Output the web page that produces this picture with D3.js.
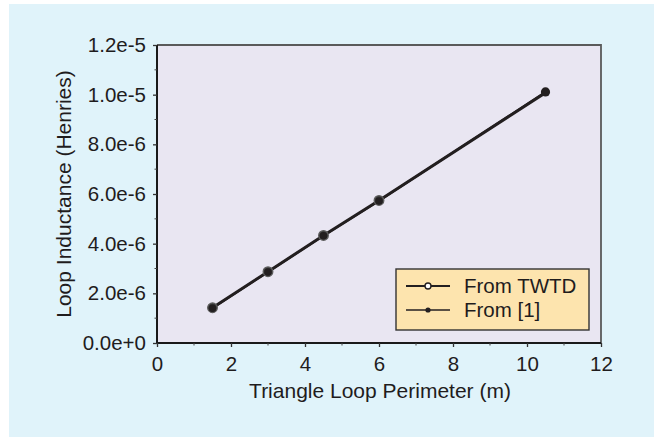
<!DOCTYPE html>
<html>
<head>
<meta charset="utf-8">
<script src="https://cdn.jsdelivr.net/npm/d3@7/dist/d3.min.js"></script>
<style>
  html, body { margin: 0; padding: 0; background: #ffffff; }
  svg { display: block; }
  text { font-family: "Liberation Sans", Arial, Helvetica, sans-serif; fill: #1f1c1d; }
</style>
</head>
<body>
<svg id="chart" width="662" height="437"></svg>
<script>
// ---- data ----
const perimeters = [1.5, 3, 4.5, 6, 10.5];
const twtdValues = [1.42e-6, 2.87e-6, 4.33e-6, 5.74e-6, 1.008e-5];
const ref1Values = [1.40e-6, 2.86e-6, 4.32e-6, 5.72e-6, 1.011e-5];
const seriesNames = ["From TWTD", "From [1]"];
const xTicks = [0, 2, 4, 6, 8, 10, 12];
const yTicks = [0, 2e-6, 4e-6, 6e-6, 8e-6, 1e-5, 1.2e-5];
const yTickLabels = ["0.0e+0", "2.0e-6", "4.0e-6", "6.0e-6", "8.0e-6", "1.0e-5", "1.2e-5"];
const xTitle = "Triangle Loop Perimeter (m)";
const yTitle = "Loop Inductance (Henries)";

const svg = d3.select("#chart");

// panel background
svg.append("rect").attr("x", 9).attr("y", 4).attr("width", 645).attr("height", 433).attr("fill", "#e0f3fa");

const L = 157, R = 601, T = 45, B = 343;
const x = d3.scaleLinear().domain([0, 12]).range([L, R]);
const y = d3.scaleLinear().domain([0, 1.2e-5]).range([B, T]);

// plot area
svg.append("rect").attr("x", L).attr("y", T).attr("width", R - L).attr("height", B - T)
  .attr("fill", "#e9e6f2");
// top & right frame (gray)
svg.append("path").attr("d", `M${L},${T}H${R}V${B}`).attr("fill", "none")
  .attr("stroke", "#5a5a5a").attr("stroke-width", 1.8);

// minor ticks
const xMinor = d3.range(1, 12, 2);
const yMinor = d3.range(1e-6, 1.2e-5, 2e-6);

const xAxis = svg.append("g").attr("transform", `translate(0,${B})`)
  .call(d3.axisBottom(x).tickValues(xTicks).tickFormat(d3.format("d")).tickSize(4).tickPadding(9));
const yAxis = svg.append("g").attr("transform", `translate(${L},0)`)
  .call(d3.axisLeft(y).tickValues(yTicks).tickFormat((d, i) => yTickLabels[i]).tickSize(4).tickPadding(7));

[xAxis, yAxis].forEach(g => {
  g.select(".domain").attr("stroke", "#1a1a1a").attr("stroke-width", 2);
  g.selectAll(".tick line").attr("stroke", "#333").attr("stroke-width", 1.3);
  g.selectAll("text").style("font-size", "20.5px").attr("fill", "#1f1c1d");
});
xAxis.select(".domain").attr("d", `M${L},0H${R}`);
yAxis.select(".domain").attr("d", `M0,${B}V${T}`);

svg.append("g").selectAll("line").data(xMinor).join("line")
  .attr("x1", d => x(d)).attr("x2", d => x(d)).attr("y1", B).attr("y2", B + 2.5)
  .attr("stroke", "#444").attr("stroke-width", 1);
svg.append("g").selectAll("line").data(yMinor).join("line")
  .attr("y1", d => y(d)).attr("y2", d => y(d)).attr("x1", L).attr("x2", L - 2.5)
  .attr("stroke", "#444").attr("stroke-width", 1);

// titles
svg.append("text").attr("x", 380).attr("y", 398).attr("text-anchor", "middle")
  .style("font-size", "21px").text(xTitle);
svg.append("text").attr("transform", `translate(71,194) rotate(-90)`).attr("text-anchor", "middle")
  .style("font-size", "21px").text(yTitle);

// lines
const line = d3.line().x(d => x(d[0])).y(d => y(d[1]));
const twtd = perimeters.map((p, i) => [p, twtdValues[i]]);
const ref1 = perimeters.map((p, i) => [p, ref1Values[i]]);

svg.append("path").datum(twtd).attr("d", line).attr("fill", "none")
  .attr("stroke", "#231f20").attr("stroke-width", 3);
svg.append("path").datum(ref1).attr("d", line).attr("fill", "none")
  .attr("stroke", "#231f20").attr("stroke-width", 2);

svg.append("g").selectAll("circle").data(twtd.slice(0, 4)).join("circle")
  .attr("cx", d => x(d[0])).attr("cy", d => y(d[1])).attr("r", 4.8)
  .attr("fill", "#3a3a3a").attr("stroke", "#5c5c5c").attr("stroke-width", 1.3);
svg.append("g").selectAll("circle").data(ref1).join("circle")
  .attr("cx", d => x(d[0])).attr("cy", d => y(d[1])).attr("r", (d, i) => i === 4 ? 4.6 : 3.8)
  .attr("fill", "#231f20");

// legend
const lg = svg.append("g");
lg.append("rect").attr("x", 396).attr("y", 269).attr("width", 193).attr("height", 61)
  .attr("fill", "#fde4ae").attr("stroke", "#333").attr("stroke-width", 1.4);
const rows = [
  { name: seriesNames[0], y: 286, open: true, w: 2.2 },
  { name: seriesNames[1], y: 310, open: false, w: 1.4 }
];
rows.forEach(r => {
  lg.append("line").attr("x1", 406).attr("x2", 450).attr("y1", r.y).attr("y2", r.y)
    .attr("stroke", "#231f20").attr("stroke-width", r.w);
  if (r.open) {
    lg.append("circle").attr("cx", 428).attr("cy", r.y).attr("r", 3)
      .attr("fill", "#ffffff").attr("stroke", "#231f20").attr("stroke-width", 1.4);
  } else {
    lg.append("circle").attr("cx", 428).attr("cy", r.y).attr("r", 2.6).attr("fill", "#231f20");
  }
  lg.append("text").attr("x", 464).attr("y", r.y + 7).style("font-size", "20.5px").text(r.name);
});
</script>
</body>
</html>
